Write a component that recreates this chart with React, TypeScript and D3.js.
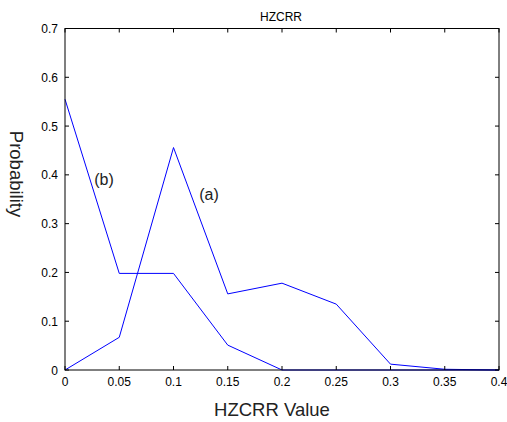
import React from "react";
import * as d3 from "d3";

const xValues = [0, 0.05, 0.1, 0.15, 0.2, 0.25, 0.3, 0.35, 0.4];
const seriesA = [0, 0.067, 0.456, 0.156, 0.178, 0.135, 0.012, 0.0015, 0];
const seriesB = [0.555, 0.198, 0.198, 0.051, 0, 0, 0, 0, 0];
const xTicks = [0, 0.05, 0.1, 0.15, 0.2, 0.25, 0.3, 0.35, 0.4];
const yTicks = [0, 0.1, 0.2, 0.3, 0.4, 0.5, 0.6, 0.7];
const title = "HZCRR";
const xLabel = "HZCRR Value";
const yLabel = "Probability";

export default function App() {
  const W = 507, H = 422;
  const left = 65, right = 499, top = 28.5, bottom = 370;
  const x = d3.scaleLinear().domain([0, 0.4]).range([left, right]);
  const y = d3.scaleLinear().domain([0, 0.7]).range([bottom, top]);
  const line = d3.line<number>().x((_, i) => x(xValues[i])).y((d) => y(d));
  const font = "'Liberation Sans', Arial, sans-serif";
  const fmt = (v: number) => (v === 0 ? "0" : String(+v.toFixed(2)));
  const tl = 4;
  return (
    <svg width={W} height={H} style={{ position: "absolute", left: 0, top: 0, background: "#fff" }}>
      <rect x={0} y={0} width={W} height={H} fill="#fff" />
      <path d={line(seriesA) || ""} fill="none" stroke="#0000ff" strokeWidth={1} />
      <path d={line(seriesB) || ""} fill="none" stroke="#0000ff" strokeWidth={1} />
      <rect x={left} y={top} width={right - left} height={bottom - top} fill="none" stroke="#000" strokeWidth={1} />
      {xTicks.map((t) => (
        <g key={"x" + t}>
          <line x1={x(t)} x2={x(t)} y1={bottom} y2={bottom - tl} stroke="#000" />
          <line x1={x(t)} x2={x(t)} y1={top} y2={top + tl} stroke="#000" />
          <text x={x(t)} y={386} textAnchor="middle" fontFamily={font} fontSize={12} fill="#000">{fmt(t)}</text>
        </g>
      ))}
      {yTicks.map((t) => (
        <g key={"y" + t}>
          <line x1={left} x2={left + tl} y1={y(t)} y2={y(t)} stroke="#000" />
          <line x1={right} x2={right - tl} y1={y(t)} y2={y(t)} stroke="#000" />
          <text x={58} y={y(t) + 4.5} textAnchor="end" fontFamily={font} fontSize={12} fill="#000">{fmt(t)}</text>
        </g>
      ))}
      <text x={281} y={20.5} textAnchor="middle" fontFamily={font} fontSize={12} fill="#000">{title}</text>
      <text x={272} y={415.5} textAnchor="middle" fontFamily={font} fontSize={18.5} fill="#222">{xLabel}</text>
      <text transform="translate(9.5,174) rotate(90)" textAnchor="middle" fontFamily={font} fontSize={18.5} fill="#222">{yLabel}</text>
      <text x={104} y={185} textAnchor="middle" fontFamily={font} fontSize={16} fill="#222">(b)</text>
      <text x={209} y={200} textAnchor="middle" fontFamily={font} fontSize={16} fill="#222">(a)</text>
    </svg>
  );
}
